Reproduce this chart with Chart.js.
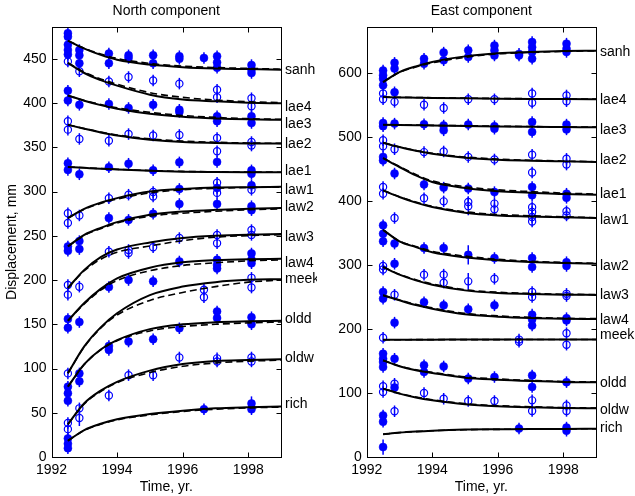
<!DOCTYPE html>
<html>
<head>
<meta charset="utf-8">
<title>Postseismic displacements</title>
<script src="https://cdn.jsdelivr.net/npm/chart.js@4.4.0/dist/chart.umd.min.js"></script>
<style>
  body { margin: 0; background: #fff; }
  canvas { position: absolute; top: 0; }
  #north { left: 0; }
  #east { left: 317px; }
</style>
</head>
<body>
<canvas id="north" width="317" height="496"></canvas>
<canvas id="east" width="318" height="496"></canvas>
<script>
// stations, top to bottom in both panels
const stations = ['sanh', 'lae4', 'lae3', 'lae2', 'lae1', 'law1', 'law2',
                  'law3', 'law4', 'meek', 'oldd', 'oldw', 'rich'];

// epochs where the model curves are tabulated
const modelYears = [1992.5, 1993, 1993.5, 1994, 1995, 1996, 1997, 1998, 1999];
const yearTicks = [1992, 1994, 1996, 1998];

// ---- North component (mm) ----
const northModel = [
  [470.5, 461.5, 454.5, 449, 443.5, 440.5, 439, 438.5, 437.8],
  [445.5, 434, 426, 419.7, 409.5, 404, 402, 400.5, 399.7],
  [408.5, 402.7, 397.7, 393.7, 388, 384.6, 382.7, 381.6, 381.2],
  [375.5, 371, 366.8, 363.3, 358.7, 356, 355, 354.4, 354.2],
  [327.8, 326.8, 325.8, 325, 323.5, 322.5, 322.1, 321.9, 321.8],
  [270, 280.5, 287.5, 292.6, 300, 303, 304.7, 305, 305.4],
  [238, 251, 259, 265.5, 273.8, 277.5, 279.4, 280.5, 281.3],
  [191, 211.5, 226, 234.5, 242.5, 247.5, 250, 251.3, 252],
  [154, 174, 190, 202, 214, 220, 222.5, 223.6, 224],
  [94.7, 125, 146.5, 162.5, 183, 192.6, 197.6, 200.2, 201],
  [79.5, 105, 121.5, 132, 144.5, 150, 152.3, 153.3, 154],
  [37, 60.7, 75, 85, 97.6, 105, 108.6, 109.7, 110.5],
  [18.4, 30.5, 37.5, 42.6, 48.6, 52.4, 55, 56.2, 57]
];
const northModelAlt = [
  [470.5, 462, 455.5, 450.5, 444.8, 441.8, 440.2, 439.2, 438.3],
  [445.5, 435, 427.3, 421.3, 411.8, 406.5, 403.5, 401.6, 400.4],
  [408.5, 403, 398.5, 394.7, 389.5, 386, 383.8, 382.4, 381.6],
  [375.5, 371.3, 367.4, 364, 359.6, 357, 355.7, 354.9, 354.5],
  [327.8, 326.9, 326, 325.2, 323.8, 322.8, 322.3, 322, 321.9],
  [270, 280, 286.5, 291.5, 298.5, 302, 303.7, 304.6, 305],
  [238, 250.5, 258, 264.3, 272.2, 275.5, 277.7, 279.4, 280.5],
  [191, 210.5, 223.5, 231.5, 238.5, 244.5, 248.5, 250.2, 251.2],
  [154, 173, 188.5, 199.5, 210.5, 216.5, 219.5, 221.7, 222.8],
  [94.7, 124.5, 145.5, 160.5, 177, 186, 192.6, 197.6, 200],
  [79.5, 104.5, 121, 131.5, 142.5, 147.5, 150, 151.6, 152.6],
  [37, 60, 74, 84, 95.5, 102.5, 106.3, 108.3, 109.5],
  [18.4, 30, 37, 42, 47.6, 51.5, 54, 55.5, 56.5]
];
// GPS occupations: [year, displacement, optional half error]
const northObs = [
  [[1992.5,479],[1992.5,475],[1992.5,466],[1992.5,460],[1992.5,455],[1992.85,460],[1992.85,454],[1992.85,445],
   [1993.75,456],[1993.75,445],[1994.35,454],[1994.35,451],[1995.1,454],[1995.1,445],[1995.9,453],[1995.9,450],
   [1996.65,451],[1997.05,453],[1997.05,446],[1997.05,440],[1998.1,443],[1998.1,438],[1998.1,434]],
  [[1992.5,447],[1992.85,436],[1993.75,424.5],[1994.35,429.5],[1995.1,425.5],[1995.9,422],[1997.05,415],
   [1997.05,406.5],[1998.1,405.5],[1998.1,396.5]],
  [[1992.5,414],[1992.5,403],[1992.85,398],[1993.75,399],[1994.35,394.5],[1995.1,398],[1995.9,392.5],[1995.9,390],
   [1997.05,385],[1997.05,379.5],[1998.1,385],[1998.1,377.5]],
  [[1992.5,379.5],[1992.5,370],[1992.85,359.5],[1993.75,357.5],[1994.35,365],[1995.1,363.5],[1995.9,364],
   [1997.05,360.5],[1997.05,345.5],[1998.1,356],[1998.1,352]],
  [[1992.5,332],[1992.5,324.5],[1992.85,319.5],[1993.75,327.5],[1994.35,331.5],[1995.1,324],[1995.9,333],
   [1997.05,333.5],[1998.1,324],[1998.1,320]],
  [[1992.5,275.5],[1992.5,264.5],[1992.85,273],[1993.75,292.5],[1994.35,296.5],[1995.1,299.5],[1995.1,294.5],
   [1997.05,310],[1997.05,298.5],[1998.1,302]],
  [[1992.5,238],[1992.5,233],[1992.85,244],[1992.85,235],[1993.75,270],[1994.35,268],[1995.1,275],[1995.9,286],
   [1995.9,303],[1997.05,286],[1997.05,304],[1998.1,307],[1998.1,283.5],[1998.1,279]],
  [[1992.5,194.5],[1992.5,183.5],[1992.85,192.5],[1993.75,232],[1994.35,234],[1994.35,230.5],[1995.1,237],
   [1995.9,247.5],[1997.05,251],[1997.05,241.5],[1998.1,256.5],[1998.1,251]],
  [[1992.5,156],[1992.5,146],[1992.85,152.5],[1993.75,192],[1994.35,200],[1995.1,198.5],[1995.9,221],
   [1997.05,223],[1997.05,217],[1997.05,213],[1998.1,230],[1998.1,223],[1998.1,219]],
  [[1992.5,94.5],[1996.65,189],[1996.65,180.5],[1998.1,202.5],[1998.1,191.5]],
  [[1992.5,79.5],[1992.5,72],[1992.5,63.5],[1992.85,94.5],[1992.85,85.5],[1993.75,125.5],[1993.75,121],
   [1994.35,130.5],[1995.1,133],[1995.9,145.5],[1997.05,164.5],[1997.05,157],[1998.1,158],[1998.1,150]],
  [[1992.5,38.5],[1992.5,31.5],[1992.85,55],[1992.85,44,9],[1993.75,69.5],[1994.35,92.5],[1995.1,92.5],
   [1995.9,112.5],[1997.05,111.5],[1997.05,108],[1998.1,112.5],[1998.1,108]],
  [[1992.5,21],[1992.5,15],[1992.5,10],[1996.65,54],[1998.1,60.5,8],[1998.1,54]]
];
const northLabelAt = [437.4, 395.6, 376.7, 354, 322.7, 302, 282.5, 248.5, 219, 201, 156, 111.6, 60];
const northTicks = [0, 50, 100, 150, 200, 250, 300, 350, 400, 450];
const northErr = 6.5;

// ---- East component (mm) ----
const eastModel = [
  [586, 601.6, 610.5, 617.3, 626.1, 631, 633, 634.3, 635],
  [562.5, 562, 561.6, 561.2, 560.5, 560, 559.6, 559.3, 559.2],
  [519.3, 518.9, 518.5, 518.1, 517.4, 516.6, 516, 515.6, 515.2],
  [491.2, 484.4, 478.5, 474, 467.8, 464.6, 463.1, 462, 461],
  [467.2, 453.2, 440, 429.8, 420.4, 415.2, 413.1, 411, 410],
  [416.7, 406.3, 397.5, 390.6, 381.8, 377.6, 376, 374.5, 373.4],
  [355, 337, 328, 320, 312, 307.3, 304.7, 303.1, 302.1],
  [296.9, 284.9, 276, 269.3, 260.4, 256.2, 254.7, 253.6, 253.3],
  [252.7, 244.9, 237.5, 231.8, 223, 219.3, 217.2, 216.2, 215.7],
  [183.3, 183.3, 183.4, 183.4, 183.5, 183.5, 183.6, 183.6, 183.6],
  [151, 141.7, 135.5, 131.3, 124, 120.9, 118.8, 117.2, 116.7],
  [106.9, 99, 93, 88.6, 82.3, 79.2, 77.6, 76.6, 76.1],
  [35.5, 38.1, 39.9, 41.2, 42.8, 43.3, 43.8, 43.9, 44.2]
];
const eastModelAlt = [
  [586, 601, 609.5, 616, 624.5, 630, 632.2, 633.8, 634.7],
  [562.5, 562.1, 561.8, 561.5, 560.8, 560.3, 559.9, 559.6, 559.4],
  [519.3, 519, 518.7, 518.3, 517.7, 517, 516.4, 515.9, 515.5],
  [491.2, 484.6, 479, 474.7, 468.8, 465.6, 463.8, 462.5, 461.4],
  [467.2, 454, 441.5, 431.5, 422.5, 417.5, 414.8, 412.5, 411],
  [416.7, 406.8, 398.5, 391.8, 383.2, 379, 377, 375.4, 374],
  [355, 337.5, 329, 321.5, 314, 309, 306, 304, 302.8],
  [296.9, 285.5, 277, 270.5, 261.5, 257.5, 255.7, 254.4, 253.8],
  [252.7, 245.3, 238.5, 233, 224.5, 220.5, 218.2, 216.8, 216.2],
  [183.3, 183.3, 183.4, 183.4, 183.5, 183.5, 183.6, 183.6, 183.6],
  [151, 142.2, 136.3, 132.3, 125.3, 122, 119.7, 118, 117.2],
  [106.9, 99.4, 93.8, 89.5, 83.4, 80.2, 78.5, 77.2, 76.5],
  [35.5, 38, 39.7, 41, 42.6, 43.2, 43.7, 43.9, 44.2]
];
const eastObs = [
  [[1992.5,604],[1992.5,596.5],[1992.5,591],[1992.5,581],[1992.85,616],[1992.85,607],[1992.85,570],
   [1993.75,622.5],[1993.75,614.5],[1994.35,632],[1994.35,620],[1995.1,635.5],[1995.1,625],[1995.9,643],
   [1995.9,635.5],[1995.9,627.5],[1996.65,630],[1996.65,627.5],[1997.05,648.5],[1997.05,640.5],[1997.05,633],
   [1997.05,622.5],[1998.1,646],[1998.1,638],[1998.1,633]],
  [[1992.5,568],[1992.5,559],[1992.85,555],[1993.75,550.5],[1994.35,545.5],[1995.1,559],[1995.9,559],
   [1997.05,568],[1997.05,553.5],[1998.1,565],[1998.1,556]],
  [[1992.5,522],[1992.5,517],[1992.85,521],[1993.75,520],[1994.35,518],[1994.35,510.5],[1995.1,519.5],
   [1995.9,517],[1995.9,513],[1997.05,523.5],[1997.05,508],[1998.1,519.5],[1998.1,512]],
  [[1992.5,495],[1992.5,485.5],[1992.85,481],[1993.75,476.5],[1994.35,477.5],[1995.1,469],[1995.9,465],
   [1997.05,472.5],[1997.05,444.5],[1998.1,466],[1998.1,457]],
  [[1992.5,469],[1992.5,463.5],[1992.85,443],[1993.75,426],[1994.35,421],[1995.1,419.5],[1995.9,414],
   [1997.05,422],[1997.05,409],[1998.1,411.5],[1998.1,405]],
  [[1992.5,422],[1992.5,411.5],[1992.85,373.5],[1993.75,404.5],[1994.35,399.5],[1995.1,398.5],[1995.1,392,14],
   [1995.9,396],[1995.9,387],[1997.05,390.5],[1997.05,383],[1997.05,375],[1997.05,368],[1998.1,384],[1998.1,377.5]],
  [[1992.5,362],[1992.5,349],[1992.5,337],[1992.85,333.5],[1992.85,302],[1993.75,326.5],[1994.35,326.5],
   [1995.1,316,15],[1995.9,311],[1997.05,311],[1997.05,297],[1998.1,304.5],[1998.1,298.5]],
  [[1992.5,298.5],[1992.5,293],[1992.85,253.5],[1993.75,285],[1994.35,285],[1994.35,272.5],[1995.1,274.5,13],
   [1995.9,278.5],[1997.05,258],[1997.05,250],[1998.1,255],[1998.1,251.5]],
  [[1992.5,258],[1992.5,247.5],[1992.85,210],[1993.75,242],[1994.35,237],[1995.1,231],[1995.9,237],
   [1997.05,222.5],[1997.05,215],[1997.05,205.5],[1998.1,217],[1998.1,213.5]],
  [[1992.5,186.5],[1996.65,183.5],[1996.65,180],[1998.1,193.5],[1998.1,175.5]],
  [[1992.5,161.5],[1992.5,153.5],[1992.5,148.5],[1992.5,140.5],[1992.85,153.5],[1992.85,108.5],[1993.75,143.5],
   [1993.75,133],[1994.35,141.5],[1995.1,122.5],[1995.9,125],[1997.05,127.5],[1997.05,109.5],[1998.1,117]],
  [[1992.5,110.5],[1992.5,101.5],[1992.85,114.5],[1992.85,71.5],[1993.75,100],[1994.35,91],[1995.1,87.5],
   [1995.9,87.5],[1997.05,88.5],[1997.05,72],[1998.1,80.5],[1998.1,72]],
  [[1992.5,65],[1992.5,55],[1992.5,15.5,12],[1996.65,44.5],[1998.1,46],[1998.1,41]]
];
const eastLabelAt = [632.8, 557.3, 510.5, 464.6, 411.5, 370.9, 298, 252.7, 213.6, 190.2, 114.7, 73, 44.4];
const eastTicks = [0, 100, 200, 300, 400, 500, 600];
const eastErr = 9;

const FONT = '"Liberation Sans", Arial, Helvetica, sans-serif';
const BLUE = '#0000ff';

// error bars under the markers, box with inward ticks, panel title and station names
const panelDecor = {
  id: 'panelDecor',
  beforeDatasetsDraw(chart) {
    const { ctx, scales: { x, y } } = chart;
    ctx.save();
    ctx.strokeStyle = BLUE;
    ctx.lineWidth = 1.5;
    chart.data.datasets.forEach(ds => {
      if (!ds.errorBars) return;
      ds.data.forEach(p => {
        const px = x.getPixelForValue(p.x);
        ctx.beginPath();
        ctx.moveTo(px, y.getPixelForValue(p.y - p.e));
        ctx.lineTo(px, y.getPixelForValue(p.y + p.e));
        ctx.stroke();
      });
    });
    ctx.restore();
  },
  afterDraw(chart, args, opts) {
    const { ctx, chartArea: a, scales: { x, y } } = chart;
    const L = Math.round(a.left) + 0.5, R = Math.round(a.right) + 0.5;
    const T = Math.round(a.top) + 0.5, B = Math.round(a.bottom) + 0.5;
    ctx.save();
    ctx.strokeStyle = '#000';
    ctx.lineWidth = 1;
    ctx.strokeRect(L, T, R - L, B - T);
    ctx.beginPath();
    x.ticks.forEach(t => {
      const px = Math.round(x.getPixelForValue(t.value)) + 0.5;
      ctx.moveTo(px, B); ctx.lineTo(px, B - 5);
      ctx.moveTo(px, T); ctx.lineTo(px, T + 5);
    });
    y.ticks.forEach(t => {
      const py = Math.round(y.getPixelForValue(t.value)) + 0.5;
      ctx.moveTo(L, py); ctx.lineTo(L + 5, py);
      ctx.moveTo(R, py); ctx.lineTo(R - 5, py);
    });
    ctx.stroke();

    ctx.fillStyle = '#000';
    ctx.font = '14px ' + FONT;
    ctx.textAlign = 'center';
    ctx.textBaseline = 'middle';
    ctx.fillText(opts.title, (a.left + a.right) / 2, 11);
    ctx.textAlign = 'left';
    stations.forEach((name, i) => {
      ctx.fillText(name, a.right + 4, y.getPixelForValue(opts.labelAt[i]));
    });
    ctx.restore();
  }
};

function makePanel(id, p) {
  const datasets = [];
  stations.forEach((name, i) => {
    const filled = i % 2 === 0;
    datasets.push({
      label: name,
      data: p.obs[i].map(o => ({ x: o[0], y: o[1], e: o[2] !== undefined ? o[2] : p.err })),
      errorBars: true,
      showLine: false,
      pointStyle: 'circle',
      pointRadius: filled ? 4 : 3.6,
      pointBackgroundColor: filled ? BLUE : 'rgba(0,0,0,0)',
      pointBorderColor: BLUE,
      pointBorderWidth: filled ? 0.5 : 1.2,
      order: 2
    });
    datasets.push({
      label: name + ' (alt)',
      data: modelYears.map((t, k) => ({ x: t, y: p.alt[i][k] })),
      borderColor: '#000',
      borderWidth: 1.6,
      borderDash: [7, 4],
      pointRadius: 0,
      cubicInterpolationMode: 'monotone',
      order: 1
    });
    datasets.push({
      label: name + ' (model)',
      data: modelYears.map((t, k) => ({ x: t, y: p.model[i][k] })),
      borderColor: '#000',
      borderWidth: 2,
      pointRadius: 0,
      cubicInterpolationMode: 'monotone',
      order: 0
    });
  });

  const tickFont = { family: FONT, size: 14 };
  return new Chart(document.getElementById(id), {
    type: 'line',
    data: { datasets },
    plugins: [panelDecor],
    options: {
      responsive: false,
      devicePixelRatio: 1,
      animation: false,
      events: [],
      layout: { padding: { top: 27, right: p.padRight, left: 0, bottom: 0 } },
      plugins: {
        legend: { display: false },
        tooltip: { enabled: false },
        panelDecor: { title: p.title, labelAt: p.labelAt }
      },
      scales: {
        x: {
          type: 'linear',
          min: 1992,
          max: 1999,
          afterBuildTicks: s => { s.ticks = yearTicks.map(v => ({ value: v })); },
          afterFit: s => { s.height = 39; },
          grid: { display: false, drawTicks: false },
          border: { display: false },
          ticks: { color: '#000', font: tickFont, padding: 5, maxRotation: 0, callback: v => String(v) },
          title: { display: true, text: 'Time, yr.', color: '#000', font: tickFont, padding: { top: 0, bottom: 0 } }
        },
        y: {
          type: 'linear',
          min: 0,
          max: p.yMax,
          afterBuildTicks: s => { s.ticks = p.ticks.map(v => ({ value: v })); },
          afterFit: s => { s.width = p.axisWidth; },
          grid: { display: false, drawTicks: false },
          border: { display: false },
          ticks: { color: '#000', font: tickFont, padding: 5, callback: v => String(v) },
          title: { display: !!p.yTitle, text: p.yTitle || '', color: '#000', font: tickFont, padding: { top: 4, bottom: 0 } }
        }
      }
    }
  });
}

makePanel('north', {
  title: 'North component', model: northModel, alt: northModelAlt, obs: northObs,
  labelAt: northLabelAt, ticks: northTicks, err: northErr, yMax: 486,
  axisWidth: 51.5, padRight: 36, yTitle: 'Displacement, mm'
});
makePanel('east', {
  title: 'East component', model: eastModel, alt: eastModelAlt, obs: eastObs,
  labelAt: eastLabelAt, ticks: eastTicks, err: eastErr, yMax: 672,
  axisWidth: 49.7, padRight: 39
});
</script>
</body>
</html>
